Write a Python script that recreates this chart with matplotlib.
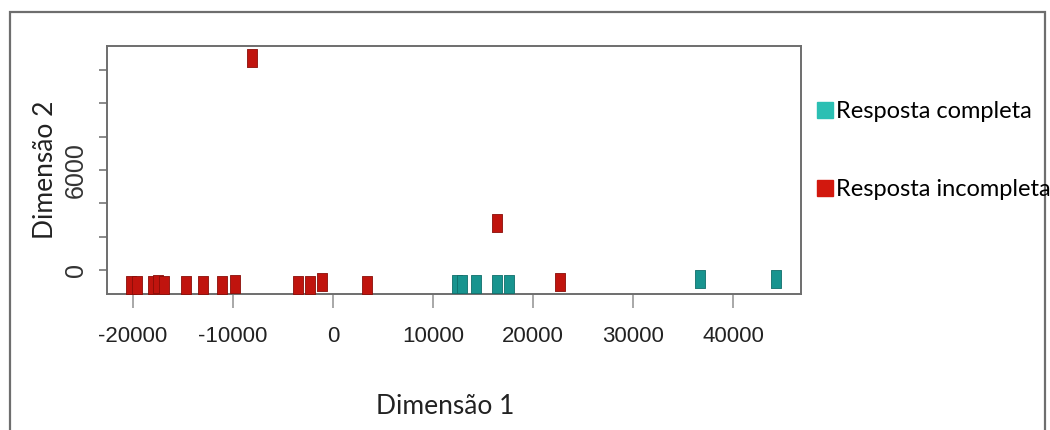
import matplotlib.pyplot as plt
from matplotlib import font_manager
from matplotlib.lines import Line2D
from matplotlib.patches import Rectangle

# dados
x_incompleta = [-20200, -19600, -18000, -17500, -16900, -14700, -13000, -11100,
                -9800, -8100, -3500, -2300, -1100, 3400, 16400, 22700]
y_incompleta = [-900, -900, -900, -850, -900, -900, -900, -900,
                -850, 12700, -900, -900, -720, -900, 2800, -700]
x_completa = [12400, 12900, 14300, 16400, 17600, 36700, 44300]
y_completa = [-850, -850, -850, -850, -850, -540, -540]

x_ticks = [-20000, -10000, 0, 10000, 20000, 30000, 40000]
x_rotulos = ['-20000', '-10000', '0', '10000', '20000', '30000', '40000']
y_ticks = [0, 2000, 4000, 6000, 8000, 10000, 12000]
y_rotulos = ['0', '', '', '6000', '', '', '']

cor_vermelho = '#C0140E'
cor_teal = '#18948F'

# fonte estreita para os números do eixo x, se existir
nomes = {f.name for f in font_manager.fontManager.ttflist}
fonte_num = 'Liberation Sans Narrow' if 'Liberation Sans Narrow' in nomes else 'Liberation Sans'

fig = plt.figure(figsize=(10.5, 4.3), dpi=100)

# moldura externa
fig.add_artist(Rectangle((10 / 1050, -0.05), 1035 / 1050, 1 - 12 / 430 + 0.05,
                         transform=fig.transFigure, fill=False,
                         edgecolor='#6e6e6e', linewidth=1.6))

ax = fig.add_axes([107 / 1050, 1 - 294 / 430, 694 / 1050, 248 / 430])

# marcador retangular vertical
ret = [(-0.27, -0.5), (0.27, -0.5), (0.27, 0.5), (-0.27, 0.5), (-0.27, -0.5)]
ax.scatter(x_incompleta, y_incompleta, marker=ret, s=150, c=cor_vermelho,
           edgecolors='#8a0d08', linewidths=0.6, zorder=3)
ax.scatter(x_completa, y_completa, marker=ret, s=150, c=cor_teal,
           edgecolors='#0f6e6a', linewidths=0.6, zorder=3)

ax.set_xlim(-22600, 46800)
ax.set_ylim(-1430, 13430)

ax.set_xticks(x_ticks)
ax.set_xticklabels(x_rotulos, family=[fonte_num, 'DejaVu Sans'], fontsize=16,
                   color='#222222')
ax.set_yticks(y_ticks)
ax.set_yticklabels(y_rotulos, rotation=90, va='center',
                   family=['Liberation Sans', 'DejaVu Sans'], fontsize=18,
                   color='#333333')
ax.tick_params(axis='x', length=10, width=1.2, color='#999999', pad=13)
ax.tick_params(axis='y', length=6, width=1.2, color='#777777', pad=8)

for lado in ['top', 'right', 'left', 'bottom']:
    ax.spines[lado].set_color('#6e6e6e')
    ax.spines[lado].set_linewidth(1.4)

ax.set_xlabel('Dimensão 1', family=['Lato', 'DejaVu Sans'], fontsize=19,
              color='#222222')
ax.xaxis.set_label_coords(0.488, -0.405)
ax.set_ylabel('Dimensão 2', family=['Lato', 'DejaVu Sans'], fontsize=19,
              color='#222222', labelpad=4)

handles = [
    Line2D([], [], marker='s', linestyle='none', markersize=12,
           markerfacecolor='#2BBFB3', markeredgecolor='#2BBFB3'),
    Line2D([], [], marker='s', linestyle='none', markersize=12,
           markerfacecolor='#D2180E', markeredgecolor='#D2180E'),
]
fig.legend(handles, ['Resposta completa', 'Resposta incompleta'],
           loc='upper left', bbox_to_anchor=(808 / 1050, 1 - 92 / 430),
           frameon=False, handlelength=0.6, handletextpad=0.2,
           labelspacing=2.4, borderaxespad=0,
           prop={'family': ['Lato', 'DejaVu Sans'], 'size': 17})

fig.savefig('out.png', dpi=100)
